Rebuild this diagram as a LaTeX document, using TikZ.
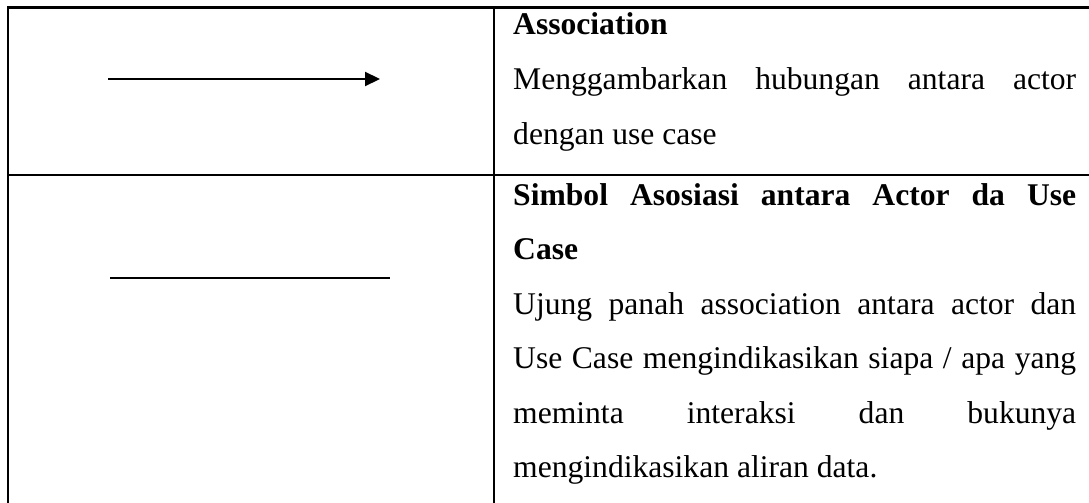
\documentclass[tikz,border=0pt]{standalone}
\usepackage{fontspec}
\setmainfont{Liberation Serif}
\usetikzlibrary{arrows.meta}
\begin{document}
\begin{tikzpicture}[x=1pt,y=-1pt,
  txt/.style={anchor=base west, inner sep=0pt, font=\fontsize{31.6}{36}\selectfont},
  outer/.style={line width=2.6pt},
  grid/.style={line width=1.6pt},
  sym/.style={line width=2.2pt}]
\useasboundingbox (0,0) rectangle (1089,503);
% table rules
\coordinate (tl) at (7.8,7.6);
\coordinate (tr) at (1089,7.6);
\coordinate (bl) at (7.8,503);
\coordinate (ml) at (7.8,175);
\coordinate (mr) at (1089,175);
\coordinate (ct) at (494,7.6);
\coordinate (cb) at (494,503);
\draw[outer] (bl) -- (tl) -- (tr);
\draw[grid] (ml) -- (mr);
\draw[grid] (ct) -- (cb);
% symbols
\coordinate (a1) at (108,79);
\coordinate (a2) at (380,79);
\draw[sym,-{Triangle[length=15pt,width=14pt]}] (a1) -- (a2);
\coordinate (b1) at (110,278);
\coordinate (b2) at (390,278);
\draw[sym] (b1) -- (b2);
% row 1 text
\node[txt] (r1a) at (513,35) {\bfseries Association};
\node[txt] (r1b) at (513,89.5) {\makebox[563pt][s]{Menggambarkan hubungan antara actor}};
\node[txt] (r1c) at (513,144) {dengan use case};
% row 2 text
\node[txt] (r2a) at (513,205) {\makebox[563pt][s]{\bfseries Simbol Asosiasi antara Actor da Use}};
\node[txt] (r2b) at (513,259.5) {\bfseries Case};
\node[txt] (r2c) at (513,314) {\makebox[563pt][s]{Ujung panah association antara actor dan}};
\node[txt] (r2d) at (513,368.5) {\makebox[563pt][s]{Use Case mengindikasikan siapa / apa yang}};
\node[txt] (r2e) at (513,423) {\makebox[563pt][s]{meminta interaksi dan bukunya}};
\node[txt] (r2f) at (513,477.5) {mengindikasikan aliran data.};
\end{tikzpicture}
\end{document}
